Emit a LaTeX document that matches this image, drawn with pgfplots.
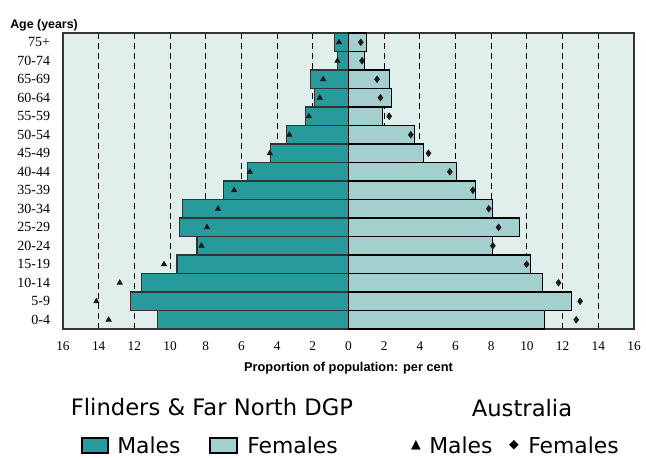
\documentclass[border=0pt]{standalone}
\usepackage{fontspec}
\usepackage{pgfplots}
\pgfplotsset{compat=1.18}
\setmainfont{Liberation Serif}
\newfontfamily\lsans{Liberation Sans}
\newfontfamily\legfont{DejaVu Sans}
\definecolor{male}{HTML}{279A9B}
\definecolor{female}{HTML}{A3CFCE}
\definecolor{bg}{HTML}{E1EFEC}
\definecolor{frame}{HTML}{333333}
\definecolor{mk}{HTML}{1A1A1A}
\newcommand{\PX}[2]{({((#1)-63)*0.75pt},{(329-(#2))*0.75pt})}
\begin{document}
\begin{tikzpicture}
\useasboundingbox \PX{0}{0} rectangle \PX{646}{457};
\begin{axis}[
  at={(0,0)}, anchor=south west,
  scale only axis, width=428.25pt, height=222pt,
  xmin=-16, xmax=16, ymin=-0.5, ymax=15.5,
  xtick={-16,-14,...,16},
  xticklabels={16,14,12,10,8,6,4,2,0,2,4,6,8,10,12,14,16},
  ytick={0,...,15},
  yticklabels={0-4,5-9,10-14,15-19,20-24,25-29,30-34,35-39,40-44,45-49,50-54,55-59,60-64,65-69,70-74,75+},
  xtick pos=bottom, tick align=inside, major tick length=3pt,
  ytick style={draw=none},
  xtick style={draw=black, line width=0.6pt},
  xmajorgrids,
  grid style={black, line width=0.75pt, dash pattern=on 4.5pt off 3pt},
  axis background/.style={fill=bg},
  axis line style={frame, line width=1.1pt},
  xticklabel style={font=\fontsize{10}{12}\selectfont, inner sep=0pt, anchor=north, yshift=-9pt},
  yticklabel style={font=\fontsize{10.5}{12}\selectfont, inner sep=0pt, anchor=east, xshift=-9.5pt},
]
% Flinders & Far North DGP males (negative side)
\addplot[xbar, bar width=1, bar shift=0pt, fill=male, draw=frame, line width=0.8pt] coordinates {
(-10.71,0) (-12.2,1) (-11.6,2) (-9.61,3) (-8.49,4) (-9.49,5) (-9.31,6) (-6.99,7)
(-5.68,8) (-4.39,9) (-3.5,10) (-2.41,11) (-1.89,12) (-2.11,13) (-0.6,14) (-0.81,15)};
% females
\addplot[xbar, bar width=1, bar shift=0pt, fill=female, draw=black, line width=0.8pt] coordinates {
(10.99,0) (12.48,1) (10.89,2) (10.18,3) (8.09,4) (9.6,5) (8.09,6) (7.1,7)
(6.07,8) (4.2,9) (3.7,10) (1.92,11) (2.39,12) (2.3,13) (0.88,14) (0.99,15)};
% Australia males
\addplot[only marks, mark=triangle*, mark size=2.3pt, mk, mark options={fill=mk, draw=mk}] coordinates {
(-13.44,0) (-14.13,1) (-12.82,2) (-10.34,3) (-8.24,4) (-7.93,5) (-7.31,6) (-6.41,7)
(-5.53,8) (-4.41,9) (-3.31,10) (-2.22,11) (-1.61,12) (-1.42,13) (-0.62,14) (-0.53,15)};
% Australia females
\addplot[only marks, mark=diamond*, mark size=2.5pt, mk, mark options={fill=mk, draw=mk}] coordinates {
(12.76,0) (12.98,1) (11.77,2) (9.98,3) (8.09,4) (8.41,5) (7.86,6) (6.97,7)
(5.68,8) (4.48,9) (3.49,10) (2.28,11) (1.79,12) (1.6,13) (0.76,14) (0.69,15)};
\end{axis}
\node[anchor=base west, inner sep=0pt, font=\lsans\bfseries\fontsize{9.3}{11}\selectfont] at \PX{10}{29} {Age (years)};
\node[anchor=base, inner sep=0pt, font=\lsans\bfseries\fontsize{9.6}{11}\selectfont] at \PX{348.5}{371} {Proportion of population: per cent};
\node[anchor=base, inner sep=0pt, font=\legfont\fontsize{17}{20}\selectfont] at \PX{212}{415.7} {Flinders \& Far North DGP};
\node[anchor=base, inner sep=0pt, font=\legfont\fontsize{17}{20}\selectfont] at \PX{522}{416.5} {Australia};
\draw[fill=male, draw=black, line width=0.9pt] \PX{82}{438} rectangle \PX{108}{453};
\node[anchor=base west, inner sep=0pt, font=\legfont\fontsize{16.4}{20}\selectfont] at \PX{117}{453.5} {Males};
\draw[fill=female, draw=black, line width=0.9pt] \PX{210}{438} rectangle \PX{237}{453};
\node[anchor=base west, inner sep=0pt, font=\legfont\fontsize{16.4}{20}\selectfont] at \PX{247}{453.5} {Females};
\node[inner sep=0pt, font=\legfont\fontsize{9.5}{10}\selectfont] at \PX{416}{445} {▲};
\node[anchor=base west, inner sep=0pt, font=\legfont\fontsize{16.4}{20}\selectfont] at \PX{429}{453.5} {Males};
\node[inner sep=0pt, font=\legfont\fontsize{9.5}{10}\selectfont] at \PX{514}{445} {◆};
\node[anchor=base west, inner sep=0pt, font=\legfont\fontsize{16.4}{20}\selectfont] at \PX{528}{453.5} {Females};
\end{tikzpicture}
\end{document}
